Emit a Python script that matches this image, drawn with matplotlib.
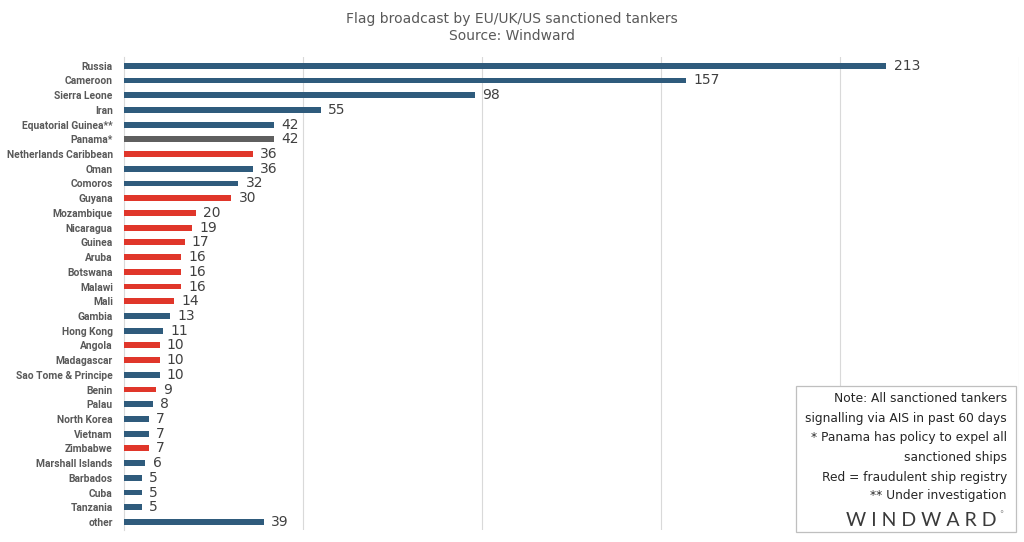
import matplotlib
matplotlib.use("Agg")
import matplotlib.pyplot as plt
from matplotlib.patches import Rectangle

countries = ["Russia", "Cameroon", "Sierra Leone", "Iran", "Equatorial Guinea**",
             "Panama*", "Netherlands Caribbean", "Oman", "Comoros", "Guyana",
             "Mozambique", "Nicaragua", "Guinea", "Aruba", "Botswana", "Malawi",
             "Mali", "Gambia", "Hong Kong", "Angola", "Madagascar",
             "Sao Tome & Principe", "Benin", "Palau", "North Korea", "Vietnam",
             "Zimbabwe", "Marshall Islands", "Barbados", "Cuba", "Tanzania", "other"]
tankers = [213, 157, 98, 55, 42, 42, 36, 36, 32, 30, 20, 19, 17, 16, 16, 16,
           14, 13, 11, 10, 10, 10, 9, 8, 7, 7, 7, 6, 5, 5, 5, 39]
# b = normal, r = fraudulent registry, g = Panama
kind = ["b", "b", "b", "b", "b", "g", "r", "b", "b", "r", "r", "r", "r", "r", "r", "r",
        "r", "b", "b", "r", "r", "b", "r", "b", "b", "b", "r", "b", "b", "b", "b", "b"]

palette = {"b": "#2f5b7c", "r": "#e0362a", "g": "#5f5f5f"}
colors = [palette[k] for k in kind]

note_lines = ["Note: All sanctioned tankers",
              "signalling via AIS in past 60 days",
              "* Panama has policy to expel all",
              "sanctioned ships",
              "Red = fraudulent ship registry",
              "** Under investigation"]

fig = plt.figure(figsize=(10.24, 5.42), dpi=100)
ax = fig.add_axes([0.121, 0.022, 0.874, 0.873])

y = range(len(countries))
ax.barh(y, tankers, height=0.4, color=colors, zorder=3)
for i, v in enumerate(tankers):
    ax.text(v + 2, i, str(v), va="center", ha="left", fontsize=10, color="#404040")

ax.set_xlim(0, 250)
ax.set_ylim(len(countries) - 0.45, -0.6)
ax.set_xticks([50, 100, 150, 200, 250])
ax.set_xticklabels([])
ax.tick_params(axis="x", length=0)
ax.grid(axis="x", color="#d9d9d9", linewidth=0.8, zorder=0)
ax.set_yticks(list(y))
ax.set_yticklabels(countries, fontsize=7.4, fontweight="bold", color="#595959",
                   family=["Roboto", "DejaVu Sans"])
ax.tick_params(axis="y", length=0, pad=8)
for s in ["top", "right", "bottom"]:
    ax.spines[s].set_visible(False)
ax.spines["left"].set_color("#d9d9d9")

fig.text(0.5, 0.978, "Flag broadcast by EU/UK/US sanctioned tankers\nSource: Windward",
         ha="center", va="top", fontsize=10, color="#595959", linespacing=1.3)

# note box
fig.patches.append(Rectangle((796 / 1024, 1 - 532 / 542), 220 / 1024, 146 / 542,
                             transform=fig.transFigure, facecolor="white",
                             edgecolor="#bfbfbf", linewidth=0.9, zorder=5))
ys = [399, 418.5, 438, 457.5, 477, 496]
for line, yy in zip(note_lines, ys):
    fig.text(1007 / 1024, 1 - yy / 542, line, ha="right", va="center",
             fontsize=8.8, color="#262626", zorder=6)
fig.text(997 / 1024, 1 - 520 / 542, "W I N D W A R D", ha="right", va="center",
         fontsize=14, color="#3a3a3a", fontweight="normal",
         family=["Lato", "DejaVu Sans"], zorder=6)
fig.text(999 / 1024, 1 - 515 / 542, "°", ha="left", va="center",
         fontsize=6, color="#909090", zorder=6)

fig.savefig("out.png", dpi=100)
